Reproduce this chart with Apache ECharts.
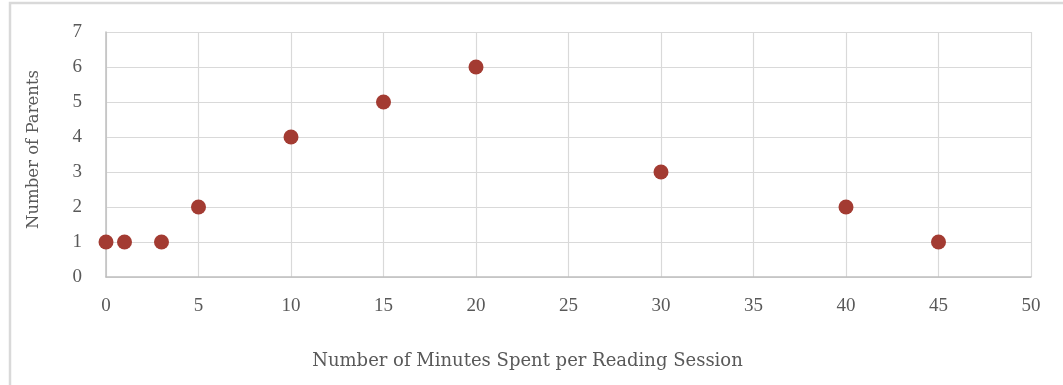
<!DOCTYPE html>
<html>
<head>
<meta charset="utf-8">
<script src="https://cdn.jsdelivr.net/npm/echarts@6/dist/echarts.min.js"></script>
<style>
  html, body { margin: 0; padding: 0; background: #fff; }
  #chart { width: 1063px; height: 385px; }
</style>
</head>
<body>
<div id="chart"></div>
<script>
// Minutes per reading session and how many parents reported each
const minutes = [0, 1, 3, 5, 10, 15, 20, 30, 40, 45];
const parents = [1, 1, 1, 2, 4, 5, 6, 3, 2, 1];

const xTitle = 'Number of Minutes Spent per Reading Session';
const yTitle = 'Number of Parents';

const titleFont = '"DejaVu Serif", "Liberation Serif", serif';
const tickFont = '"Liberation Serif", "DejaVu Serif", serif';
const textColor = '#595959';

const chart = echarts.init(document.getElementById('chart'), null, { renderer: 'canvas' });

chart.setOption({
  animation: false,
  backgroundColor: '#fff',
  graphic: [{
    type: 'rect',
    shape: { x: 10, y: 3, width: 1200, height: 500 },
    style: { fill: 'none', stroke: '#d9d9d9', lineWidth: 2.5 },
    silent: true
  }],
  grid: { left: 106, right: 32, top: 32, bottom: 108, containLabel: false },
  xAxis: {
    type: 'value',
    min: 0, max: 50, interval: 5,
    name: xTitle,
    nameLocation: 'middle',
    nameGap: 75,
    nameTextStyle: { fontFamily: titleFont, fontSize: 18, color: textColor, padding: [0, 82, 0, 0] },
    axisLine: { show: true, lineStyle: { color: '#bfbfbf', width: 1.5 } },
    axisTick: { show: false },
    axisLabel: { fontFamily: tickFont, fontSize: 19, color: textColor, margin: 20 },
    splitLine: { show: true, lineStyle: { color: '#d9d9d9', width: 1.2 } }
  },
  yAxis: {
    type: 'value',
    min: 0, max: 7, interval: 1,
    name: yTitle,
    nameLocation: 'middle',
    nameGap: 64,
    nameTextStyle: { fontFamily: titleFont, fontSize: 16.5, color: textColor, padding: [0, 0, 0, 10] },
    axisLine: { show: true, lineStyle: { color: '#bfbfbf', width: 1.5 } },
    axisTick: { show: false },
    axisLabel: { fontFamily: tickFont, fontSize: 19, color: textColor, margin: 24 },
    splitLine: { show: true, lineStyle: { color: '#d9d9d9', width: 1.2 } }
  },
  series: [{
    type: 'scatter',
    data: minutes.map((m, i) => [m, parents[i]]),
    symbol: 'circle',
    symbolSize: 15,
    itemStyle: { color: '#a33b32', opacity: 1 }
  }]
});
</script>
</body>
</html>
